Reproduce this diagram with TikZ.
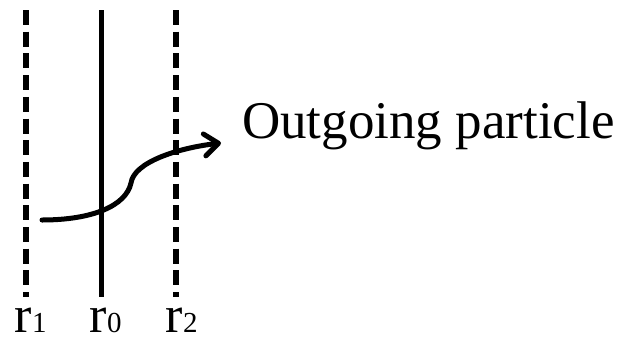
\documentclass[tikz,border=0pt]{standalone}
\usepackage{fontspec}
\setmainfont{Liberation Serif}
\usetikzlibrary{arrows.meta}
\begin{document}
\begin{tikzpicture}[x=1pt,y=-1pt,
  dashline/.style={line width=5.5pt,dash pattern=on 15pt off 6.7pt},
  solidline/.style={line width=5pt},
  lbl/.style={anchor=base west,inner sep=0pt,text depth=0pt,font=\fontsize{52}{60}\selectfont},
  big/.style={anchor=base west,inner sep=0pt,font=\fontsize{53}{62}\selectfont}]
\useasboundingbox (0,0) rectangle (620,338);
% radial lines
\coordinate (r1top) at (26,10);
\coordinate (r1bot) at (26,297);
\coordinate (r0top) at (101,10);
\coordinate (r0bot) at (101,297);
\coordinate (r2top) at (176,10);
\coordinate (r2bot) at (176,297);
\draw[dashline] (r1top) -- (r1bot);
\draw[solidline] (r0top) -- (r0bot);
\draw[dashline] (r2top) -- (r2bot);
% labels
\node[lbl] (l1) at (14.5,332) {r{\fontsize{29}{32}\selectfont 1}};
\node[lbl] (l0) at (89.5,332) {r{\fontsize{29}{32}\selectfont 0}};
\node[lbl] (l2) at (165.5,332) {r{\fontsize{29}{32}\selectfont 2}};
% particle trajectory
\coordinate (start) at (42,220);
\coordinate (mid) at (131,183);
\coordinate (tip) at (221,143);
\draw[line width=5pt,line cap=round,-{Straight Barb[length=14pt,width=22pt,round]}]
  (start) .. controls (92,220) and (126,206) .. (mid)
  .. controls (134,162) and (178,148) .. (tip);
\node[big] (out) at (242,138) {Outgoing particle};
\end{tikzpicture}
\end{document}
